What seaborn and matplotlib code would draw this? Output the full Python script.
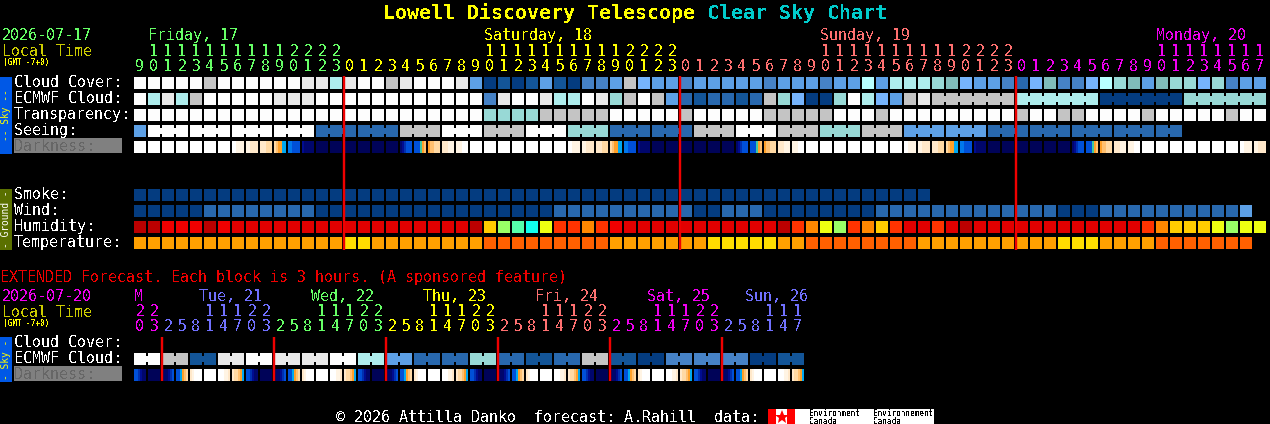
import matplotlib
matplotlib.use("Agg")
import matplotlib.pyplot as plt
from matplotlib.colors import ListedColormap
from matplotlib.patches import Rectangle
from matplotlib.transforms import Affine2D
import numpy as np
import pandas as pd
import seaborn as sns

# ---------------- data ----------------
cloud_cover = ("WWWWWGWWWWWWEEAEWWGEWWWEM" "VBVBMBVNNMGLMM" "NMMMMMNMMMNMMKM" "AAATSLMMNDLSNNLKTSMSTTLTNMM")
ecmwf_cloud = ("WAEAGWWWWWEEEWWWWWWWWWWWW" "NEWWEAAWETGWGMDBDDBDGTLVVTWAL" "MGE" "GGGGGG" "AAAAAA" "VVVVVV" "TTTTTT")
transparency = ("WWWWWWWWWWWWWWWWWWWWWWWWW" "TTTTGGGGGWWWWWGWWWWW" "GGGGGWWWGWWWWWWWWWGWWGGWWWWGWWWWWGWW")
seeing_first = "M"
seeing_blocks = "WWWWDDGWGWTDDGWGTGMMDDDDD"
smoke = "VVVVVVVVVVVVVVVVVVVVVVVVVVVVVVVVVVVVVVVVVVVVVVVVVVVVVVVVV"
wind = ("VVVVVDDDDDDDDVVVVVVVVVVVVVVVVV" "DDDDDDDDDDVVDDDVVVVVVVV" "DDDDDDDDDDDDDVVVDDDDDDDDDDM")
humidity = ("ccRRRcRrrrrrrrrrrrrrrrrrc" "ygmClooOoRrrrrrrrrrrrc" "oOlgoOyorrorc" "rrrrrrrrrrrr" "oOyyylgll")
temperature = ("aaaaaaaaaaaaaaaYYaaaaaaaa" "FFFFFFFFFaaaaaaaYYYYYaa" "FFFFFFFFaaaaaaaaaaYYYaaaa" "FFFFFFF")
ext_ecmwf = "WGBEWEEWAMDDTDBDGBVNNNVB"

W0 = "WWWWWW"; N0 = "cccccc"
DUSK = ["WW1111", "112222", "222333", "345566", "778888", "abbbbb"]
DAWN = ["ba9888", "888g54", "544333", "222111", "111WWW"]
darkness_cells = ([W0] * 7 + DUSK + [N0] * 6 + DAWN + [W0] * 7 + DUSK + [N0] * 6 + DAWN
                  + [W0] * 7 + DUSK + [N0] * 6 + DAWN + [W0] * 7 + ["WW1111", "112222"])
ext_cycle = ["889abb", "cccccc", "cbba98", "886543", "21WWWW", "WWWWWW", "WWW112", "233456"]
ext_darkness_cells = ext_cycle * 6

first_hour = 9
ext_hours = [20, 23] + [2, 5, 8, 11, 14, 17, 20, 23] * 5 + [2, 5, 8, 11, 14, 17]
midnights = [15, 39, 63]
ext_midnights = [2, 10, 18, 26, 34, 42]

GREEN, YELLOW, SALMON, MAGENTA, BLUE = "#66FF66", "#FFFF00", "#FF7070", "#F000F0", "#7070FF"
day_labels = [("Friday, 17", 1, GREEN), ("Saturday, 18", 25, YELLOW),
              ("Sunday, 19", 49, SALMON), ("Monday, 20", 73, MAGENTA)]
ext_day_labels = [("M", 0, MAGENTA), ("Tue, 21", 199, BLUE), ("Wed, 22", 311, GREEN),
                  ("Thu, 23", 423, YELLOW), ("Fri, 24", 535, SALMON),
                  ("Sat, 25", 647, MAGENTA), ("Sun, 26", 745, BLUE)]
main_colors = [GREEN] * 15 + [YELLOW] * 24 + [SALMON] * 24 + [MAGENTA] * 18
ext_colors = [MAGENTA] * 2 + [BLUE] * 8 + [GREEN] * 8 + [YELLOW] * 8 + [SALMON] * 8 + [MAGENTA] * 8 + [BLUE] * 6

palette = {
    "W": "#FDFDFD", "E": "#E9E9E9", "G": "#C4C4C4", "K": "#B8FFFF", "A": "#AEEDED", "T": "#98D9D6",
    "S": "#80BCBA", "L": "#76B4FC", "M": "#5DA0E6", "N": "#4682C6", "D": "#2868AE", "B": "#135598",
    "V": "#043C80",
    "c": "#BB0000", "r": "#E20000", "R": "#F00000", "o": "#FF3300", "O": "#FF8800", "y": "#FFCC00",
    "l": "#EEFF11", "g": "#99FF66", "m": "#55FFAA", "C": "#11FFEE",
    "a": "#FFA000", "Y": "#FFDD00", "F": "#FF6000",
}
dark_codes = "W123456789abcg"
dark_colors = ["#FFFFFF", "#FFF4E4", "#FFE8CA", "#FFD9A4", "#FFC070", "#FFA028", "#00A8F0",
               "#0078EC", "#0050D8", "#0030B0", "#000C90", "#00066C", "#000358", "#40C8A0"]

# ---------------- figure ----------------
sns.set_theme(style="dark", rc={"figure.facecolor": "black", "savefig.facecolor": "black",
                                "axes.facecolor": "black"})
FONT = "DejaVu Sans Mono"
plt.rcParams["font.family"] = [FONT]
plt.rcParams["text.antialiased"] = False

FW, FH = 1270, 424
fig = plt.figure(figsize=(12.7, 4.24), dpi=100)
PITCH_X, PITCH_Y = 14.0, 16.0
X0, Y0 = 140.0, 83.0  # pixel centre of column 0 / row 0

ax = fig.add_axes([0, 0, 1, 1], zorder=3)
ax.set_xlim(-X0 / PITCH_X, (FW - X0) / PITCH_X)
ax.set_ylim((FH - Y0) / PITCH_Y, -Y0 / PITCH_Y)
ax.set_axis_off()

px = Affine2D().scale(1 / FW, -1 / FH).translate(0, 1) + fig.transFigure


def pt(n_px):
    return n_px * 72.0 / 100.0


rows = []
bridges = []


def add_row(row_y, codes):
    for i, code in enumerate(codes):
        rows.append({"col": i, "row": row_y, "code": code})


def add_bridge(row_y, first, last, code):
    for i in range(first, last):
        bridges.append({"col": i + 0.5, "row": row_y, "code": code})


R_CLOUD, R_ECMWF, R_TRANS, R_SEE = 0, 1, 2, 3
R_SMOKE, R_WIND, R_HUM, R_TEMP = 7, 8, 9, 10
R_EXT = (359 - Y0) / PITCH_Y

add_row(R_CLOUD, cloud_cover)
add_row(R_ECMWF, ecmwf_cloud)
add_row(R_TRANS, transparency)
seeing = seeing_first + "".join(c * 3 for c in seeing_blocks)[:74]
add_row(R_SEE, seeing)
for b, code in enumerate(seeing_blocks):
    first = 1 + 3 * b
    add_bridge(R_SEE, first, min(first + 2, 74), code)
for start in (57, 63, 69, 75):
    add_bridge(R_ECMWF, start, start + 5, ecmwf_cloud[start])
add_row(R_SMOKE, smoke)
add_row(R_WIND, wind)
add_row(R_HUM, humidity)
add_row(R_TEMP, temperature)
add_row(R_EXT, "".join(c * 2 for c in ext_ecmwf))
for b, code in enumerate(ext_ecmwf):
    add_bridge(R_EXT, 2 * b, 2 * b + 1, code)

cells = pd.DataFrame(rows)
links = pd.DataFrame(bridges)
sns.scatterplot(data=cells, x="col", y="row", hue="code", palette=palette, marker="s",
                s=pt(12) ** 2, linewidth=0, legend=False, ax=ax)
sns.scatterplot(data=links, x="col", y="row", hue="code", palette=palette, marker="s",
                s=pt(6) ** 2, linewidth=0, legend=False, ax=ax)
for coll in ax.collections:
    coll.set_snap(True)
ax.set_xlim(-X0 / PITCH_X, (FW - X0) / PITCH_X)
ax.set_ylim((FH - Y0) / PITCH_Y, -Y0 / PITCH_Y)
ax.set_axis_off()

# midnight lines
ax.vlines(np.array(midnights) - 0.43, (76 - Y0) / PITCH_Y, (250 - Y0) / PITCH_Y,
          color="#F00000", lw=pt(2.4), zorder=5)
ax.vlines(np.array(ext_midnights) - 0.43, (337 - Y0) / PITCH_Y, (381 - Y0) / PITCH_Y,
          color="#F00000", lw=pt(2.4), zorder=5)


# darkness rows as heatmaps of sub-cell colour stops
def strip_matrix(cell_list):
    vals = []
    for prof in cell_list:
        vals.extend(dark_codes.index(ch) for ch in prof)
        vals.append(np.nan)
    return np.array(vals, dtype=float).reshape(1, -1)


dark_cmap = ListedColormap(dark_colors)
for cell_list, ytop in ((darkness_cells, 141), (ext_darkness_cells, 369)):
    w = 14 * len(cell_list)
    dax = fig.add_axes([134 / FW, 1 - (ytop + 12) / FH, w / FW, 12 / FH], zorder=1)
    sns.heatmap(strip_matrix(cell_list), ax=dax, cmap=dark_cmap, vmin=-0.5,
                vmax=len(dark_colors) - 0.5, cbar=False, xticklabels=False, yticklabels=False)
    dax.set_axis_off()


def txt(x, y, s, color="white", size=10.8, **kw):
    kw.setdefault("va", "baseline")
    kw.setdefault("ha", "left")
    ax.text(x, y + 1, s, color=color, fontsize=size, transform=px, family=[FONT], **kw)


# title
txt(383, 18, "Lowell Discovery Telescope", YELLOW, 14.35, fontweight="bold")
txt(707, 18, "Clear Sky Chart", "#00CCCC", 14.35, fontweight="bold")

# main header
OLIVE = "#CCCC00"
txt(2, 39, "2026-07-17", GREEN)
txt(2, 55, "Local Time", OLIVE)
txt(3, 64, "(GMT -7+0)", YELLOW, 5.6)
for label, col, color in day_labels:
    txt(X0 + PITCH_X * col - 6, 39, label, color)
for i, color in enumerate(main_colors):
    hour = (first_hour + i) % 24
    x = X0 + PITCH_X * i
    if hour >= 10:
        txt(x, 55, str(hour // 10), color, ha="center")
    txt(x, 70, str(hour % 10), color, ha="center")

# row labels
for label, y in (("Cloud Cover:", 86), ("ECMWF Cloud:", 102), ("Transparency:", 118), ("Seeing:", 134),
                 ("Smoke:", 198), ("Wind:", 214), ("Humidity:", 230), ("Temperature:", 246),
                 ("Cloud Cover:", 346), ("ECMWF Cloud:", 362)):
    txt(14, y, label)

for top, base in ((138, 150), (366, 378)):
    ax.add_patch(Rectangle((14, top), 108, 15, transform=px, facecolor="#808080", edgecolor="none", zorder=1))
    txt(14, base, "Darkness:", "#666666", zorder=2)

# side bars
for top, bot, color in ((77, 154, "#0058E6"), (189, 250, "#5A7000"), (337, 382, "#0058E6")):
    ax.add_patch(Rectangle((0, top), 12, bot - top, transform=px, facecolor=color, edgecolor="none", zorder=1))
txt(6, 114.5, "-- Sky --", YELLOW, 6.9, rotation=90, ha="center", va="center", zorder=2, antialiased=True)
txt(6, 218.5, "- Ground -", "white", 6.9, rotation=90, ha="center", va="center", zorder=2, antialiased=True)
txt(6, 358.5, "- Sky -", YELLOW, 6.9, rotation=90, ha="center", va="center", zorder=2, antialiased=True)

# extended section
txt(0, 281, "EXTENDED Forecast. Each block is 3 hours. (A sponsored feature)", "#EE0000")
txt(2, 300, "2026-07-20", MAGENTA)
txt(2, 316, "Local Time", OLIVE)
txt(3, 325, "(GMT -7+0)", YELLOW, 5.6)
for label, x, color in ext_day_labels:
    txt(x if x else 134, 300, label, color)
for i, (hour, color) in enumerate(zip(ext_hours, ext_colors)):
    x = X0 + PITCH_X * i
    if hour >= 10:
        txt(x, 315, str(hour // 10), color, ha="center")
    txt(x, 330, str(hour % 10), color, ha="center")

# footer
txt(336, 421, "\u00a9 2026 Attilla Danko  forecast: A.Rahill  data:")
ax.add_patch(Rectangle((768, 409), 166, 15, transform=px, facecolor="white", edgecolor="none", zorder=1))
ax.add_patch(Rectangle((768, 409), 8, 15, transform=px, facecolor="#FF0000", edgecolor="none", zorder=2))
ax.add_patch(Rectangle((787, 409), 8, 15, transform=px, facecolor="#FF0000", edgecolor="none", zorder=2))
ax.plot([781.5], [416.5], marker="*", ms=10, color="#FF0000", mew=0, transform=px, zorder=3)
for x, word in ((809, "Environment"), (873, "Environnement")):
    txt(x, 415.5, word, "black", 5.6, zorder=3)
    txt(x, 422.5, "Canada", "black", 5.6, zorder=3)

fig.savefig("out.png", dpi=100, facecolor="black")
